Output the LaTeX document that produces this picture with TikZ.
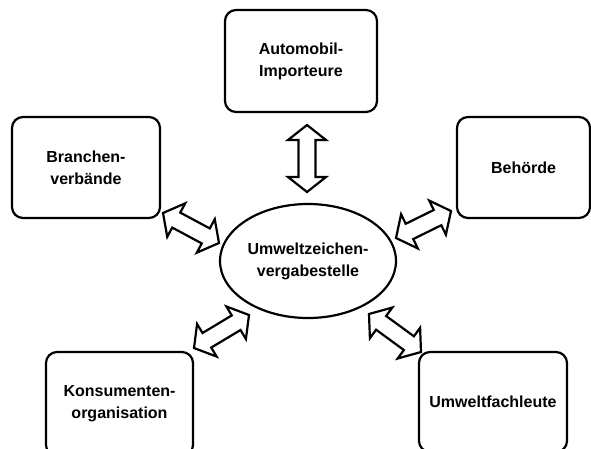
\documentclass[tikz,border=0pt]{standalone}
\usepackage{fontspec}
\setmainfont{Liberation Sans}
\usetikzlibrary{calc,shapes.geometric}
\newcommand\boxfont{\fontsize{16}{22}\selectfont\bfseries}
\tikzset{
 box/.style={draw, line width=2.2pt, rounded corners=11pt, align=center, font=\boxfont, inner sep=0pt},
 oval/.style={ellipse, draw, line width=2.2pt, align=center, font=\boxfont, inner sep=0pt},
 dbl/.style={draw, fill=white, line width=2.2pt, line join=miter}
}
\newcommand\dblarr[2]{%
 \coordinate (q1) at ($(#1)!15pt!(#2)$);
 \coordinate (q2) at ($(#2)!15pt!(#1)$);
 \draw[dbl] (#1) -- ($(q1)!19pt!90:(#2)$) -- ($(q1)!8.5pt!90:(#2)$) -- ($(q2)!8.5pt!-90:(#1)$) -- ($(q2)!19pt!-90:(#1)$) -- (#2) -- ($(q2)!19pt!90:(#1)$) -- ($(q2)!8.5pt!90:(#1)$) -- ($(q1)!8.5pt!-90:(#2)$) -- ($(q1)!19pt!-90:(#2)$) -- cycle;}
\begin{document}
\begin{tikzpicture}[x=1pt,y=-1pt]
\useasboundingbox (0,0) rectangle (591,448);
\clip (0,0) rectangle (591,448);
\fill[white] (0,0) rectangle (591,448);
\node[box, minimum width=152pt, minimum height=102pt] (auto) at (301,61) {Automobil-\\Importeure};
\node[box, minimum width=148pt, minimum height=101pt] (bran) at (86,167.5) {Branchen-\\verbände};
\node[box, minimum width=133pt, minimum height=101pt] (beh) at (523.5,167.5) {Behörde};
\node[box, minimum width=147pt, minimum height=104pt] (kons) at (119.5,404) {Konsumenten-\\organisation};
\node[box, minimum width=148pt, minimum height=100pt] (fach) at (493,402) {Umweltfachleute};
\node[oval, minimum width=176pt, minimum height=114pt] (mid) at (308,261) {Umweltzeichen-\\vergabestelle};
% arrow ends
\coordinate (a1) at (307,125); \coordinate (b1) at (307,192);
\coordinate (a2) at (163,213); \coordinate (b2) at (219,243);
\coordinate (a3) at (396,238); \coordinate (b3) at (451,211);
\coordinate (a4) at (194,348); \coordinate (b4) at (249,315);
\coordinate (a5) at (369,314); \coordinate (b5) at (421,352);
\dblarr{a1}{b1}
\dblarr{a2}{b2}
\dblarr{a3}{b3}
\dblarr{a4}{b4}
\dblarr{a5}{b5}
\end{tikzpicture}
\end{document}
